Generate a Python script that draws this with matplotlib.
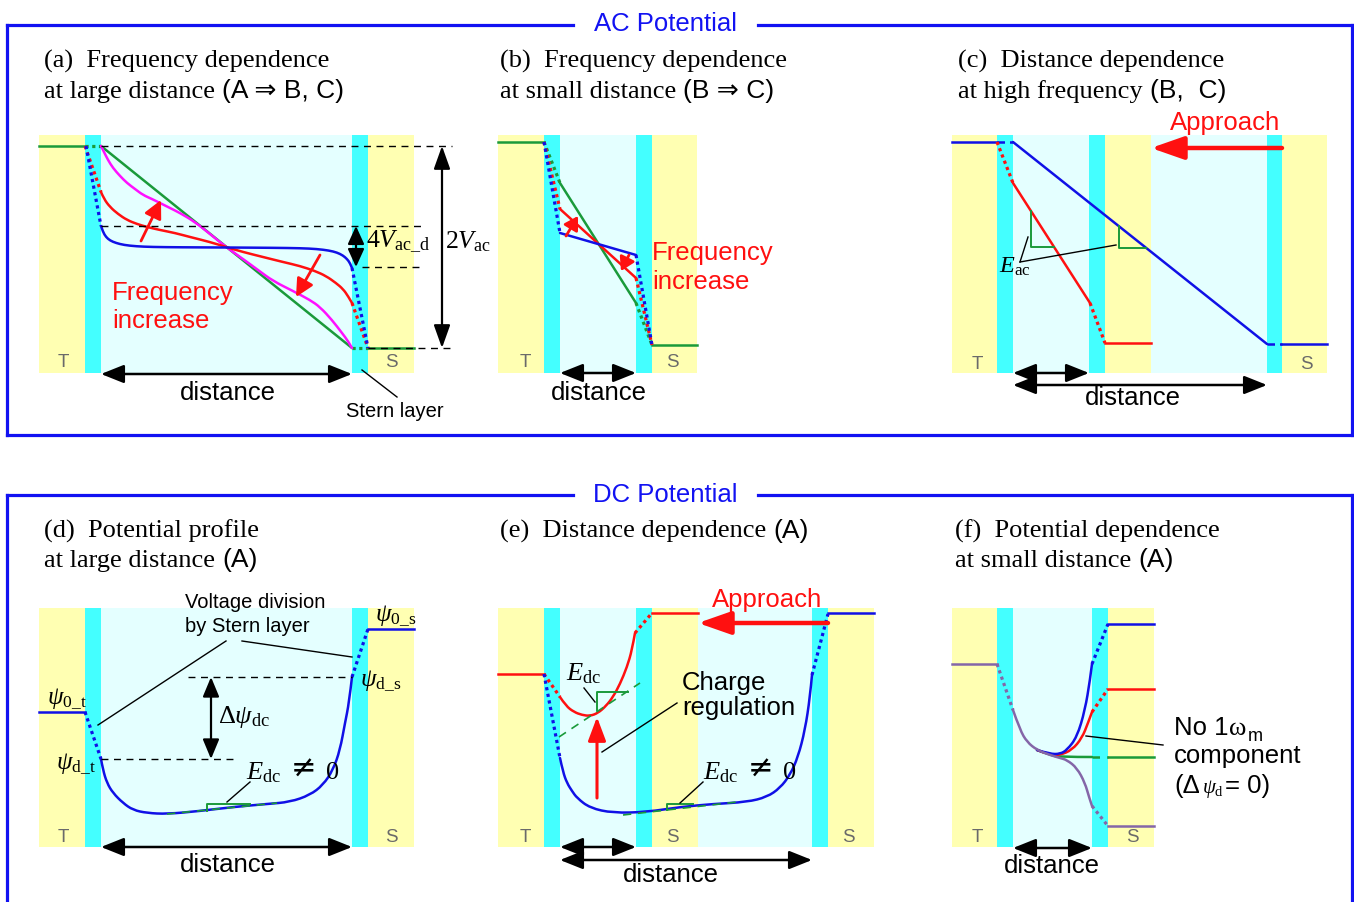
import matplotlib
matplotlib.use('Agg')
import matplotlib.pyplot as plt
from matplotlib.patches import Rectangle, PathPatch
from matplotlib.path import Path

plt.rcParams['mathtext.fontset'] = 'custom'
plt.rcParams['mathtext.rm'] = 'Liberation Serif'
plt.rcParams['mathtext.it'] = 'Liberation Serif:italic'
plt.rcParams['mathtext.bf'] = 'Liberation Serif:bold'
plt.rcParams['mathtext.fallback'] = 'stix'

SERIF = 'Liberation Serif'
SANS = ['Liberation Sans', 'DejaVu Sans']

# colours
YEL, CYN, LCY = '#FFFFB2', '#44FFFF', '#E4FFFF'
BOX, GRN, RED, BLU, MAG, PUR, GRY = '#1212F2', '#1A9A3A', '#FF1010', '#1010E6', '#FF10FF', '#8466A8', '#6A6A6A'

# ---------------- data (pixel units of the schematic) ----------------
# layer boundaries: tip | stern | gap | stern | sample ...
bands_a = [39, 85, 101, 352, 368, 414]
bands_b = [498, 544, 560, 636, 652, 697]
bands_c = [952, 997, 1013, 1089, 1105, 1151, 1267, 1282, 1327]
bands_d = [39, 85, 101, 352, 368, 414]
bands_e = [498, 544, 560, 636, 652, 698, 812, 828, 874]
bands_f = [952, 997, 1013, 1092, 1108, 1154]
cols_5 = [YEL, CYN, LCY, CYN, YEL]
cols_8 = [YEL, CYN, LCY, CYN, YEL, LCY, CYN, YEL]
ac_rows = (135, 373)
dc_rows = (608, 847)

# (a) AC potential profiles at large distance
a_blue_x = [101, 103, 106, 110, 116, 124, 136, 152, 180, 226, 273, 301, 317, 329, 337, 343, 347, 350, 352]
a_blue_y = [226, 232, 237, 240.5, 243, 245, 246.3, 247, 247.3, 247.5, 247.8, 248.2, 249, 250.5, 252.5, 255.5, 259, 263, 268]
a_red_x = [101, 104, 110, 118, 127, 137, 147, 160, 175, 190, 210, 226, 243, 263, 283, 300, 315, 326, 336, 343, 348, 352]
a_red_y = [192, 199, 207, 214, 220, 224, 227, 230, 233, 237, 242, 247, 252, 257, 262, 266, 271, 276, 283, 289, 296, 303]
a_mag_x = [101, 104, 108, 113, 120, 127, 135, 143, 152, 160, 170, 180, 195, 210, 226, 243, 258, 273, 293, 310, 320, 332, 342, 348, 352]
a_mag_y = [146, 152, 160, 168, 176, 183, 189, 195, 199, 203, 208, 213, 222, 234, 247, 259, 270, 281, 291, 300, 307, 320, 333, 341, 348]
a_grn_x = [101, 352]
a_grn_y = [146, 348]

# (b) small distance: gap end values
b_levels_top, b_levels_bot = 142, 345
b_grn = [183, 303]
b_red = [209, 278]
b_blu = [233, 255]

# (c) distance dependence
c_blue_x, c_blue_y = [1013, 1267], [142, 344]
c_red_x, c_red_y = [1013, 1090], [183, 303]

# (d) DC profile at large distance
d_blue_x = [101, 103, 107, 113, 123, 133, 147, 167, 200, 233, 267, 290, 310, 323, 333, 340, 345, 349, 352]
d_blue_y = [759, 770, 783, 793, 803, 810, 813, 814, 811, 807, 804, 802, 795, 785, 770, 750, 723, 703, 677]

# (e) DC distance dependence
e_blue_x = [560, 563, 567, 572, 577, 590, 613, 647, 680, 713, 747, 767, 780, 790, 798, 805, 810, 812]
e_blue_y = [758, 772, 783, 791, 798, 808, 813, 812, 807, 804, 802, 797, 788, 775, 757, 730, 697, 675]
e_red_x = [560, 566, 574, 582, 590, 598, 606, 613, 620, 627, 632, 635]
e_red_y = [697, 706, 712, 715, 716, 713, 706, 697, 684, 667, 650, 633]

# (f) DC potential dependence at small distance
f_pur_x = [1013, 1020, 1027, 1037, 1050, 1060, 1067, 1077, 1085, 1089, 1092]
f_pur_y = [710, 730, 742, 750, 755, 758, 760, 768, 783, 797, 806]
f_blu_x = [1037, 1050, 1060, 1067, 1077, 1085, 1090, 1092]
f_blu_y = [750, 754, 754, 750, 737, 710, 680, 664]
f_red_x = [1037, 1050, 1060, 1072, 1082, 1088, 1092]
f_red_y = [750, 755, 755, 750, 738, 723, 712]
f_grn_x = [1037, 1050, 1060, 1092]
f_grn_y = [750, 755, 757, 757]

# ---------------- figure ----------------
fig = plt.figure(figsize=(13.54, 9.02), dpi=100)
ax = fig.add_axes([0, 0, 1, 1])
ax.set_xlim(0, 1354)
ax.set_ylim(902, 0)
ax.axis('off')
R = fig.canvas.get_renderer()

LW = 1.8


def bands(xs, cols, rows):
    for i, c in enumerate(cols):
        ax.add_patch(Rectangle((xs[i], rows[0]), xs[i + 1] - xs[i], rows[1] - rows[0],
                               facecolor=c, edgecolor='none', zorder=0))


def smooth(xs, ys, color, lw=LW, z=3):
    pts = list(zip(xs, ys))
    verts, codes = [pts[0]], [Path.MOVETO]
    if len(pts) == 2:
        verts.append(pts[1]); codes.append(Path.LINETO)
    else:
        n = len(pts)
        for i in range(1, n - 1):
            if i == n - 2:
                m = pts[-1]
            else:
                m = ((pts[i][0] + pts[i + 1][0]) / 2, (pts[i][1] + pts[i + 1][1]) / 2)
            verts += [pts[i], m]
            codes += [Path.CURVE3, Path.CURVE3]
    ax.add_patch(PathPatch(Path(verts, codes), fill=False, edgecolor=color, lw=lw,
                           zorder=z, capstyle='round', joinstyle='round'))


def dotted(p, q, color, z=3):
    ax.plot([p[0], q[0]], [p[1], q[1]], color=color, lw=2.3, ls=(0, (1, 1.1)),
            dash_capstyle='butt', zorder=z)


def line(p, q, color='k', lw=1.0, ls='-', z=4):
    ax.plot([p[0], q[0]], [p[1], q[1]], color=color, lw=lw, ls=ls, zorder=z)


def dashed(p, q, color='k', lw=1.0):
    ax.plot([p[0], q[0]], [p[1], q[1]], color=color, lw=lw, ls=(0, (5, 4)), zorder=4)


def arrow(p, q, color='k', lw=1.8, style='<|-|>', hl=0.7, hw=0.28, ms=20, z=5):
    ax.annotate('', xy=q, xytext=p,
                arrowprops=dict(arrowstyle=f'{style},head_length={hl},head_width={hw}',
                                color=color, lw=lw, shrinkA=0, shrinkB=0,
                                mutation_scale=ms), zorder=z)


def txt(x, y, s, size=18.5, fam=SANS, color='k', ha='left', **kw):
    return ax.text(x, y, s, fontsize=size, family=fam, color=color, ha=ha,
                   va='baseline', zorder=6, **kw)


def width(t):
    return t.get_window_extent(renderer=R).width


def mixed(x, y, parts, size=19):
    for s, fam in parts:
        t = txt(x, y, s, size=size, fam=fam)
        x += width(t) + 7


def TS(x, y, s):
    txt(x, y, s, size=13.5, color=GRY, ha='center')


def edc_neq(x, y):
    t = txt(x, y, r'$E_{\rm dc}$', size=19, fam=SERIF)
    x += width(t) + 9
    t = txt(x, y - 1, '\u2260', size=22, fam='DejaVu Sans')
    txt(x + width(t) + 10, y, '0', size=19, fam=SERIF)


# ---------------- frames ----------------
BLW = 2.3
for (ytop, ybot, title, tb) in [(25, 435, 'AC Potential', 31), (495, 905, 'DC Potential', 502)]:
    line((7, ytop), (573, ytop), BOX, BLW)
    line((758, ytop), (1352, ytop), BOX, BLW)
    line((7, ytop), (7, ybot), BOX, BLW)
    line((1352, ytop), (1352, ybot), BOX, BLW)
    line((7, ybot), (1352, ybot), BOX, BLW)
    txt(665.5, tb, title, size=18.5, color=BOX, ha='center')

# ---------------- titles ----------------
mixed(44, 68, [('(a)  Frequency dependence', SERIF)])
mixed(44, 98, [('at large distance', SERIF), ('(A \u21D2 B, C)', SANS)])
mixed(500, 68, [('(b)  Frequency dependence', SERIF)])
mixed(500, 98, [('at small distance', SERIF), ('(B \u21D2 C)', SANS)])
mixed(958, 68, [('(c)  Distance dependence', SERIF)])
mixed(958, 98, [('at high frequency', SERIF), ('(B,  C)', SANS)])
mixed(44, 538, [('(d)  Potential profile', SERIF)])
mixed(44, 567, [('at large distance', SERIF), ('(A)', SANS)])
mixed(500, 538, [('(e)  Distance dependence', SERIF), ('(A)', SANS)])
mixed(955, 538, [('(f)  Potential dependence', SERIF)])
mixed(955, 567, [('at small distance', SERIF), ('(A)', SANS)])

# ---------------- panel (a) ----------------
bands(bands_a, cols_5, ac_rows)
line((39, 146), (85, 146), GRN, LW, z=3)
dotted((85, 146), (101, 146), GRN)
line((368, 348), (414, 348), GRN, LW, z=3)
dotted((352, 348), (368, 348), GRN)
dashed((101, 146), (452, 146))
dashed((101, 226), (423, 226))
dashed((362, 267), (423, 267))
dashed((368, 348), (452, 348))
smooth(a_grn_x, a_grn_y, GRN)
smooth(a_mag_x, a_mag_y, MAG)
smooth(a_red_x, a_red_y, RED)
smooth(a_blue_x, a_blue_y, BLU)
dotted((85, 146), (a_red_x[0], a_red_y[0]), RED)
dotted((86, 146), (a_blue_x[0], a_blue_y[0]), BLU)
dotted((a_red_x[-1], a_red_y[-1]), (368, 348), RED)
dotted((a_blue_x[-1], a_blue_y[-1]), (368, 348), BLU)
arrow((141, 241), (161, 200), RED, lw=2, style='-|>', hl=0.6, hw=0.3, ms=18)
arrow((320, 255), (296, 297), RED, lw=2, style='-|>', hl=0.6, hw=0.3, ms=18)
arrow((442, 146), (442, 348), 'k', lw=1.6, hl=0.7, hw=0.25)
arrow((356, 226), (356, 267), 'k', lw=1.6, hl=0.55, hw=0.25)
txt(366, 248, r'$4V_{\rm ac\_d}$', size=18.5, fam=SERIF)
txt(445, 248, r'$2V_{\rm ac}$', size=18.5, fam=SERIF)
txt(112, 300, 'Frequency', color=RED)
txt(112, 328, 'increase', color=RED)
arrow((101, 374), (352, 374))
txt(228, 400, 'distance', ha='center')
TS(63, 367, 'T'); TS(391, 367, 'S')
line((362, 370), (397, 397), 'k', 1.0)
txt(346, 417, 'Stern layer', size=14.5)

# ---------------- panel (b) ----------------
bands(bands_b, cols_5, ac_rows)
line((498, b_levels_top), (544, b_levels_top), GRN, LW, z=3)
line((652, b_levels_bot), (697, b_levels_bot), GRN, LW, z=3)
for vals, c in [(b_grn, GRN), (b_red, RED), (b_blu, BLU)]:
    dotted((544, b_levels_top), (560, vals[0]), c)
    smooth([560, 636], vals, c)
    dotted((636, vals[1]), (652, b_levels_bot), c)
arrow((566, 236), (578, 216), RED, lw=2, style='-|>', hl=0.5, hw=0.3, ms=16)
arrow((629, 255), (621, 271), RED, lw=2, style='-|>', hl=0.5, hw=0.3, ms=16)
txt(652, 260, 'Frequency', color=RED)
txt(652, 289, 'increase', color=RED)
arrow((560, 373), (636, 373))
txt(599, 400, 'distance', ha='center')
TS(525, 367, 'T'); TS(672, 367, 'S')

# ---------------- panel (c) ----------------
bands(bands_c, cols_8, ac_rows)
line((952, 142), (997, 142), BLU, LW, z=3)
line((997, 142), (1013, 142), BLU, 1.8, ls=(0, (3, 2)), z=3)
smooth(c_blue_x, c_blue_y, BLU)
line((1267, 344), (1282, 344), BLU, 1.8, ls=(0, (3, 2)), z=3)
line((1282, 344), (1327, 344), BLU, LW, z=3)
dotted((997, 142), (c_red_x[0], c_red_y[0]), RED)
smooth(c_red_x, c_red_y, RED)
dotted((c_red_x[1], c_red_y[1]), (1105, 343), RED)
line((1105, 343), (1151, 343), RED, LW, z=3)
ax.plot([1031, 1031, 1054], [211, 247, 247], color=GRN, lw=1.4, zorder=4)
ax.plot([1119, 1119, 1146], [226, 248, 248], color=GRN, lw=1.4, zorder=4)
line((1020, 262), (1028, 237), 'k', 1.0)
line((1020, 262), (1116, 245), 'k', 1.0)
txt(999, 273, r'$E_{\rm ac}$', size=17.5, fam=SERIF)
txt(1170, 130, 'Approach', color=RED)
arrow((1282, 148), (1151, 148), RED, lw=3.2, style='-|>', hl=1.0, hw=0.35, ms=20)
arrow((1013, 373), (1089, 373))
arrow((1013, 385), (1267, 385))
txt(1133, 405, 'distance', ha='center')
TS(977, 369, 'T'); TS(1306, 369, 'S')

# ---------------- panel (d) ----------------
bands(bands_d, cols_5, dc_rows)
line((39, 712), (85, 712), BLU, LW, z=3)
dotted((85, 712), (d_blue_x[0], d_blue_y[0]), BLU)
smooth(d_blue_x, d_blue_y, BLU)
dotted((d_blue_x[-1], d_blue_y[-1]), (368, 629), BLU)
line((368, 629), (414, 629), BLU, LW, z=3)
dashed((101, 759), (235, 759))
dashed((188, 677), (352, 677))
arrow((211, 677), (211, 759), 'k', lw=1.6, hl=0.6, hw=0.25)
txt(218, 723, r'$\Delta\psi_{\rm dc}$', size=19, fam=SERIF)
txt(47, 705, r'$\psi_{\rm 0\_t}$', size=18, fam=SERIF)
txt(56, 770, r'$\psi_{\rm d\_t}$', size=18, fam=SERIF)
txt(375, 622, r'$\psi_{\rm 0\_s}$', size=18, fam=SERIF)
txt(360, 687, r'$\psi_{\rm d\_s}$', size=18, fam=SERIF)
txt(185, 608, 'Voltage division', size=14.5)
txt(185, 632, 'by Stern layer', size=14.5)
line((226, 641), (98, 725), 'k', 1.0)
line((242, 641), (352, 657), 'k', 1.0)
ax.plot([167, 277], [814, 803], color=GRN, lw=1.2, ls=(0, (5, 4)), zorder=4)
ax.plot([207, 207, 250], [811, 804, 804], color=GRN, lw=1.4, zorder=4)
line((227, 802), (250, 782), 'k', 1.0)
edc_neq(246, 779)
arrow((101, 847), (352, 847))
txt(228, 872, 'distance', ha='center')
TS(63, 842, 'T'); TS(391, 842, 'S')

# ---------------- panel (e) ----------------
bands(bands_e, cols_8, dc_rows)
line((498, 674), (544, 674), RED, LW, z=3)
dotted((544, 674), (e_red_x[0], e_red_y[0]), RED)
smooth(e_red_x, e_red_y, RED)
dotted((e_red_x[-1], e_red_y[-1]), (652, 613), RED)
line((652, 613), (698, 613), RED, LW, z=3)
dotted((544, 674), (e_blue_x[0], e_blue_y[0]), BLU)
smooth(e_blue_x, e_blue_y, BLU)
dotted((e_blue_x[-1], e_blue_y[-1]), (828, 614), BLU)
line((828, 613), (874, 613), BLU, LW, z=3)
ax.plot([559, 640], [737, 683], color=GRN, lw=1.2, ls=(0, (5, 4)), zorder=4)
ax.plot([597, 597, 628], [710, 692, 692], color=GRN, lw=1.4, zorder=4)
ax.plot([623, 737], [815, 802], color=GRN, lw=1.2, ls=(0, (5, 4)), zorder=4)
ax.plot([667, 667, 693], [810, 804, 804], color=GRN, lw=1.4, zorder=4)
arrow((597, 798), (597, 717), RED, lw=2.2, style='-|>', hl=0.8, hw=0.3, ms=18)
txt(566, 680, r'$E_{\rm dc}$', size=19, fam=SERIF)
line((584, 688), (595, 702), 'k', 1.0)
txt(682, 690, 'Charge')
txt(682, 715, 'regulation')
line((602, 752), (677, 703), 'k', 1.0)
line((680, 803), (703, 782), 'k', 1.0)
edc_neq(703, 779)
txt(712, 607, 'Approach', color=RED)
arrow((828, 623), (698, 623), RED, lw=3.2, style='-|>', hl=1.0, hw=0.35, ms=20)
arrow((560, 847), (636, 847))
arrow((560, 860), (812, 860))
txt(671, 882, 'distance', ha='center')
TS(525, 842, 'T'); TS(672, 842, 'S'); TS(848, 842, 'S')

# ---------------- panel (f) ----------------
bands(bands_f, cols_5, dc_rows)
line((952, 664), (997, 664), PUR, LW, z=3)
dotted((997, 664), (f_pur_x[0], f_pur_y[0]), PUR)
smooth(f_grn_x, f_grn_y, GRN)
smooth(f_red_x, f_red_y, RED)
smooth(f_blu_x, f_blu_y, BLU)
smooth(f_pur_x, f_pur_y, PUR)
dotted((f_pur_x[-1], f_pur_y[-1]), (1108, 826), PUR)
dotted((f_blu_x[-1], f_blu_y[-1]), (1108, 624), BLU)
dotted((f_red_x[-1], f_red_y[-1]), (1108, 689), RED)
line((1092, 757), (1108, 757), GRN, 1.8, ls=(0, (3, 3)), z=3)
line((1108, 826), (1154, 826), PUR, LW, z=3)
line((1108, 624), (1154, 624), BLU, LW, z=3)
line((1108, 689), (1154, 689), RED, LW, z=3)
line((1108, 757), (1154, 757), GRN, LW, z=3)
line((1086, 736), (1163, 745), 'k', 1.0)
t = txt(1174, 735, 'No 1')
x1 = 1174 + width(t) + 1
t = txt(x1, 735, '\u03c9', size=19, fam=SERIF)
x1b = x1 + width(t) + 1
txt(x1b, 741, 'm', size=13)
txt(1174, 763, 'component')
t = txt(1174, 793, '(\u0394')
x2 = 1174 + width(t) + 2
t = txt(x2, 793, r'$\psi_{\rm d}$', size=15, fam=SERIF)
x3 = x2 + width(t) + 1
txt(x3, 793, '= 0)')
arrow((1013, 848), (1092, 848))
txt(1052, 873, 'distance', ha='center')
TS(977, 842, 'T'); TS(1132, 842, 'S')

fig.savefig('out.png', dpi=100)
